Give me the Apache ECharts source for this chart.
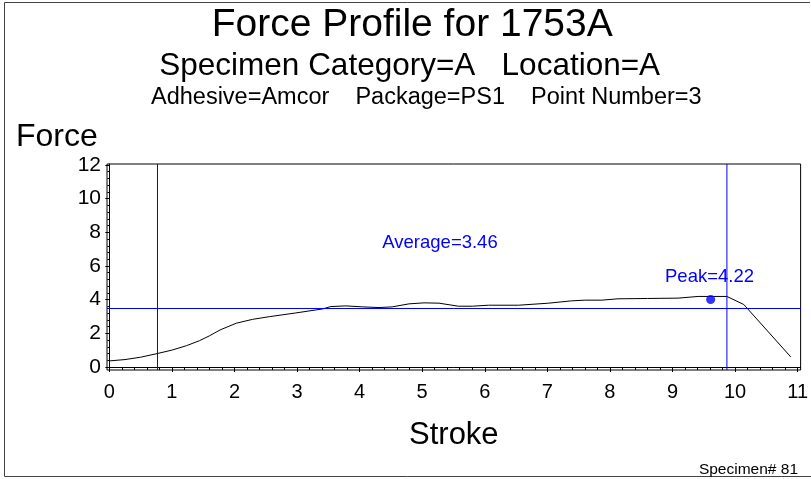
<!DOCTYPE html>
<html>
<head>
<meta charset="utf-8">
<script src="https://cdn.jsdelivr.net/npm/echarts@6/dist/echarts.min.js"></script>
<style>
html,body{margin:0;padding:0;background:#fff;}
#chart{width:811px;height:479px;}
</style>
</head>
<body>
<div id="chart"></div>
<script>
// ---- data ----
const strokeX = [0.00,0.25,0.50,0.77,1.00,1.23,1.44,1.60,1.77,2.03,2.29,2.56,2.98,3.41,3.54,3.78,4.05,4.31,4.52,4.79,5.03,5.27,5.58,5.80,6.06,6.54,7.02,7.39,7.60,7.87,8.13,8.60,9.09,9.41,9.87,10.14,10.89];
const forceY  = [0.36,0.44,0.58,0.80,1.00,1.26,1.56,1.85,2.20,2.60,2.83,2.99,3.21,3.45,3.59,3.63,3.57,3.53,3.57,3.75,3.81,3.79,3.61,3.61,3.67,3.67,3.79,3.93,3.97,3.97,4.05,4.07,4.09,4.19,4.19,3.71,0.60];
const averageForce = 3.46;
const verticalMarkers = [0.77, 9.87];
const peakPoint = [9.61, 4.01];
const peakValue = 4.22;
const xTickLabels = [0,1,2,3,4,5,6,7,8,9,10,11];
const yTickLabels = [0,2,4,6,8,10,12];
const titleText = 'Force Profile for 1753A';
const subtitle1 = 'Specimen Category=A   Location=A';
const subtitle2 = 'Adhesive=Amcor    Package=PS1    Point Number=3';
const footnote = 'Specimen# 81';

// minor tick positions (axis structure)
const xMinor = []; for (let i = 0; i < 11; i++) for (let j = 1; j < 5; j++) xMinor.push(+(i + j*0.2).toFixed(2));
const yMinor = []; for (let i = 0; i < 12; i += 2) for (let j = 1; j < 5; j++) yMinor.push(+(i + j*0.4).toFixed(2));

const FONT = "'Liberation Sans', Arial, Helvetica, sans-serif";
const BLUE = '#0000ff';
const X_MIN = -0.037, X_MAX = 11.048, Y_MIN = -0.18, Y_MAX = 12.06;

const chart = echarts.init(document.getElementById('chart'), null, {renderer: 'canvas'});
const lineData = strokeX.map((x, i) => [x, forceY[i]]);
const refStyle = {color: BLUE, width: 1, type: 'solid', opacity: 1};

const verticalSeries = verticalMarkers.map(v => ({
  type: 'line', xAxisIndex: 0, yAxisIndex: 0, data: [[v, Y_MIN], [v, Y_MAX]],
  showSymbol: false, symbol: 'none', silent: true, z: 4,
  lineStyle: {color: BLUE, width: 1}, itemStyle: {color: BLUE}
}));

const option = {
  animation: false,
  backgroundColor: '#fff',
  textStyle: {fontFamily: FONT},
  grid: {left: 107, top: 164, width: 696, height: 206, show: true, borderColor: '#000', borderWidth: 1, backgroundColor: 'transparent'},
  xAxis: [
    {type: 'value', min: X_MIN, max: X_MAX, position: 'bottom',
     name: 'Stroke', nameLocation: 'middle', nameGap: 50,
     nameTextStyle: {fontSize: 31, color: '#000', fontFamily: FONT},
     axisLine: {show: true, lineStyle: {color: '#000', width: 1}},
     axisTick: {show: true, length: 5, customValues: xTickLabels, lineStyle: {color: '#000'}},
     axisLabel: {show: true, customValues: xTickLabels, fontSize: 20, color: '#000', margin: 12, fontFamily: FONT},
     splitLine: {show: false}},
    {type: 'value', min: X_MIN, max: X_MAX, position: 'bottom', offset: 0,
     axisLine: {show: false},
     axisTick: {show: true, length: 3, customValues: xMinor, lineStyle: {color: '#000'}},
     axisLabel: {show: false}, splitLine: {show: false}}
  ],
  yAxis: [
    {type: 'value', min: Y_MIN, max: Y_MAX, position: 'left',
     axisLine: {show: true, lineStyle: {color: '#000', width: 1}},
     axisTick: {show: true, length: 4, customValues: yTickLabels, lineStyle: {color: '#000'}},
     axisLabel: {show: true, customValues: yTickLabels, fontSize: 21, color: '#000', margin: 6, fontFamily: FONT, padding: [4, 0, 0, 0]},
     splitLine: {show: false}},
    {type: 'value', min: Y_MIN, max: Y_MAX, position: 'left', offset: 0,
     axisLine: {show: false},
     axisTick: {show: true, length: 2, customValues: yMinor, lineStyle: {color: '#000'}},
     axisLabel: {show: false}, splitLine: {show: false}}
  ],
  series: [
    {type: 'line', xAxisIndex: 0, yAxisIndex: 0, data: lineData, showSymbol: false, symbol: 'none',
     lineStyle: {color: '#000', width: 1}, itemStyle: {color: '#000'}, z: 3,
     markLine: {silent: true, symbol: ['none', 'none'], label: {show: false}, emphasis: {disabled: true},
       lineStyle: refStyle, data: [{yAxis: averageForce, lineStyle: refStyle}]}}
  ].concat(verticalSeries, [
    {type: 'scatter', xAxisIndex: 0, yAxisIndex: 0, data: [peakPoint], symbol: 'circle', symbolSize: 9,
     itemStyle: {color: BLUE}, z: 5}
  ]),
  graphic: [
    {type: 'polyline', shape: {points: [[810, 2.5], [4.5, 2.5], [4.5, 476.5], [811, 476.5]]}, style: {stroke: '#444', fill: null, lineWidth: 1}},
    {type: 'text', x: 211.7, y: 25.5, style: {text: titleText, font: '39px ' + FONT, fill: '#000', textAlign: 'left', textVerticalAlign: 'middle'}},
    {type: 'text', x: 159.3, y: 66.2, style: {text: subtitle1, font: '31.5px ' + FONT, fill: '#000', textAlign: 'left', textVerticalAlign: 'middle'}},
    {type: 'text', x: 151, y: 97.2, style: {text: subtitle2, font: '23.5px ' + FONT, fill: '#000', textAlign: 'left', textVerticalAlign: 'middle'}},
    {type: 'text', x: 16, y: 137, style: {text: 'Force', font: '32px ' + FONT, fill: '#000', textAlign: 'left', textVerticalAlign: 'middle'}},
    {type: 'text', x: 440, y: 243.3, style: {text: 'Average=' + averageForce.toFixed(2), font: '18.5px ' + FONT, fill: BLUE, textAlign: 'center', textVerticalAlign: 'middle'}},
    {type: 'text', x: 709.5, y: 276.7, style: {text: 'Peak=' + peakValue.toFixed(2), font: '18.5px ' + FONT, fill: BLUE, textAlign: 'center', textVerticalAlign: 'middle'}},
    {type: 'text', x: 798, y: 469.5, style: {text: footnote, font: '15.5px ' + FONT, fill: '#000', textAlign: 'right', textVerticalAlign: 'middle'}}
  ]
};
chart.setOption(option);
</script>
</body>
</html>
